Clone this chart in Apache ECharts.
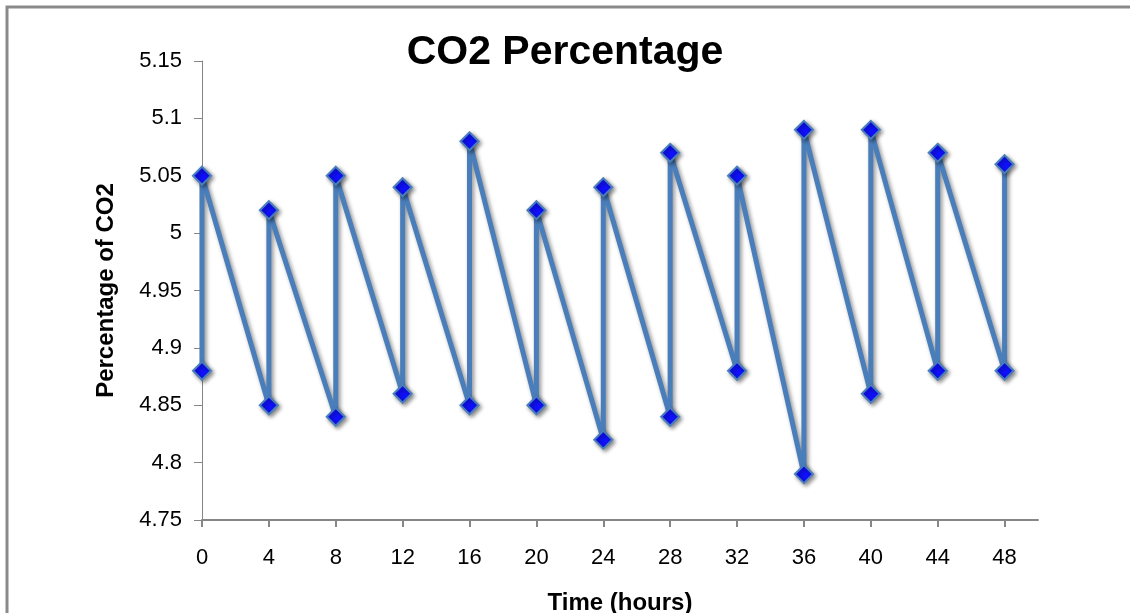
<!DOCTYPE html>
<html>
<head>
<meta charset="utf-8">
<script src="https://cdn.jsdelivr.net/npm/echarts@6/dist/echarts.min.js"></script>
<style>html,body{margin:0;padding:0;background:#fff;}#c{width:1130px;height:613px;}</style>
</head>
<body>
<div id="c"></div>
<script>
var timeHours = [0, 0, 4, 4, 8, 8, 12, 12, 16, 16, 20, 20, 24, 24, 28, 28, 32, 32, 36, 36, 40, 40, 44, 44, 48, 48];
var co2Percent = [4.88, 5.05, 4.85, 5.02, 4.84, 5.05, 4.86, 5.04, 4.85, 5.08, 4.85, 5.02, 4.82, 5.04, 4.84, 5.07, 4.88, 5.05, 4.79, 5.09, 4.86, 5.09, 4.88, 5.07, 4.88, 5.06];
var xTicks = [0, 4, 8, 12, 16, 20, 24, 28, 32, 36, 40, 44, 48];
var yTicks = [4.75, 4.8, 4.85, 4.9, 4.95, 5, 5.05, 5.1, 5.15];

var points = timeHours.map(function (t, i) { return [t, co2Percent[i]]; });
var font = 'Liberation Sans, Arial, sans-serif';
var chart = echarts.init(document.getElementById('c'), null, {renderer: 'canvas'});
chart.setOption({
  animation: false,
  backgroundColor: '#ffffff',
  title: {
    text: 'CO2 Percentage',
    left: 'center',
    top: 27,
    textStyle: {fontFamily: font, fontSize: 41, fontWeight: 'bold', color: '#000'}
  },
  graphic: [{
    type: 'rect',
    shape: {x: 7, y: 7, width: 1140, height: 640},
    style: {fill: 'none', stroke: '#8a8a8a', lineWidth: 3},
    silent: true
  }],
  grid: {left: 202, top: 61, width: 836, height: 459, outerBoundsMode: 'none', containLabel: false},
  xAxis: {
    type: 'value',
    min: 0, max: 50, interval: 4,
    name: 'Time (hours)',
    nameLocation: 'middle',
    nameGap: 71,
    nameTextStyle: {fontFamily: font, fontSize: 24, fontWeight: 'bold', color: '#000'},
    axisLine: {show: true, onZero: false, lineStyle: {color: '#868686', width: 2}},
    axisTick: {show: true, inside: false, length: 7, customValues: xTicks, lineStyle: {color: '#868686', width: 2}},
    axisLabel: {customValues: xTicks, fontFamily: font, fontSize: 22, color: '#000', margin: 27},
    splitLine: {show: false}
  },
  yAxis: {
    type: 'value',
    min: 4.75, max: 5.15, interval: 0.05,
    name: 'Percentage of CO2',
    nameLocation: 'middle',
    nameGap: 84,
    nameTextStyle: {fontFamily: font, fontSize: 24, fontWeight: 'bold', color: '#000'},
    axisLine: {show: true, lineStyle: {color: '#868686', width: 1}},
    axisTick: {show: true, inside: false, length: 8, customValues: yTicks, lineStyle: {color: '#868686', width: 1}},
    axisLabel: {
      customValues: yTicks,
      fontFamily: font, fontSize: 22, color: '#000', margin: 20,
      formatter: function (v) { return String(parseFloat(Number(v).toFixed(2))); }
    },
    splitLine: {show: false}
  },
  series: [{
    type: 'line',
    data: points,
    smooth: 0.35,
    symbol: 'diamond',
    symbolSize: 18,
    lineStyle: {color: '#4a7ebb', width: 5, shadowColor: 'rgba(0,0,0,0.45)', shadowBlur: 4, shadowOffsetX: 2, shadowOffsetY: 2},
    itemStyle: {color: '#1010ff', borderColor: '#4a7ebb', borderWidth: 2, shadowColor: 'rgba(0,0,0,0.45)', shadowBlur: 4, shadowOffsetX: 2, shadowOffsetY: 2},
    z: 3
  }]
});
</script>
</body>
</html>
